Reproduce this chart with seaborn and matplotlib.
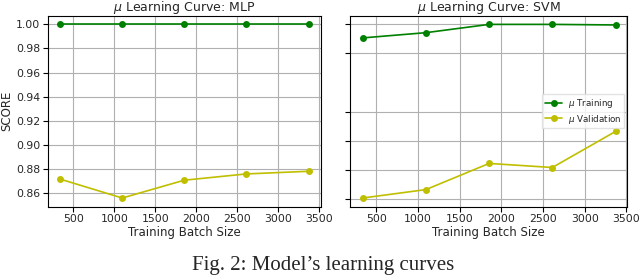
import numpy as np
import pandas as pd
import matplotlib
matplotlib.use("Agg")
import matplotlib.pyplot as plt
import seaborn as sns

# training batch sizes (same for both models)
batch_sizes = [337, 1095, 1853, 2611, 3370]

# MLP scores
mlp_train = [1.000, 1.000, 1.000, 1.000, 1.000]
mlp_val = [0.8715, 0.8558, 0.8706, 0.8758, 0.8780]

# SVM scores
svm_train = [0.9907, 0.9943, 1.000, 1.000, 0.9996]
svm_val = [0.8805, 0.8863, 0.9043, 0.9015, 0.9263]

svm_yticks = [0.88, 0.90, 0.92, 0.94, 0.98, 1.00]

sns.set_style("ticks")
plt.rcParams['font.family'] = ['DejaVu Sans']

fig = plt.figure(figsize=(6.4, 2.78), dpi=100)
ax1 = fig.add_axes([0.0745, 0.2565, 0.427, 0.687])
ax2 = fig.add_axes([0.547, 0.2565, 0.433, 0.687])


def draw(ax, train, val, title):
    df = pd.DataFrame({"size": batch_sizes, "train": train, "val": val})
    sns.lineplot(data=df, x="size", y="train", ax=ax, color="g", marker="o",
                 markersize=5, markeredgewidth=0, linewidth=1.2,
                 label=r"$\mu$ Training")
    sns.lineplot(data=df, x="size", y="val", ax=ax, color="y", marker="o",
                 markersize=5, markeredgewidth=0, linewidth=1.2,
                 label=r"$\mu$ Validation")
    ax.set_title(title, fontsize=9, pad=3)
    ax.set_xlabel("Training Batch Size", fontsize=8.5, labelpad=1)
    ax.grid(True, color="#b0b0b0", linewidth=0.8)
    ax.set_xticks([500, 1000, 1500, 2000, 2500, 3000, 3500])
    ax.tick_params(labelsize=7.8, length=3.5, width=0.8, pad=2, color="black")
    for s in ax.spines.values():
        s.set_color("black")
        s.set_linewidth(0.8)


draw(ax1, mlp_train, mlp_val, r"$\mu$ Learning Curve: MLP")
ax1.set_ylabel("SCORE", fontsize=8.5, labelpad=2)
ax1.get_legend().remove()
ax1.set_xlim(185, 3522)

draw(ax2, svm_train, svm_val, r"$\mu$ Learning Curve: SVM")
ax2.set_ylabel("")
ax2.set_yticks(svm_yticks)
ax2.set_yticklabels([])
ax2.set_xlim(185, 3510)
ax2.legend(loc="center right", fontsize=6.3, frameon=True, fancybox=False,
           edgecolor="#dddddd", borderpad=0.3, handlelength=2.0,
           labelspacing=0.3, handletextpad=0.6, borderaxespad=0.4)

fig.text(0.505, 0.045, "Fig. 2: Model\u2019s learning curves", ha="center",
         va="center", fontsize=15, family=["Liberation Serif"])

fig.savefig("out.png", dpi=100)
